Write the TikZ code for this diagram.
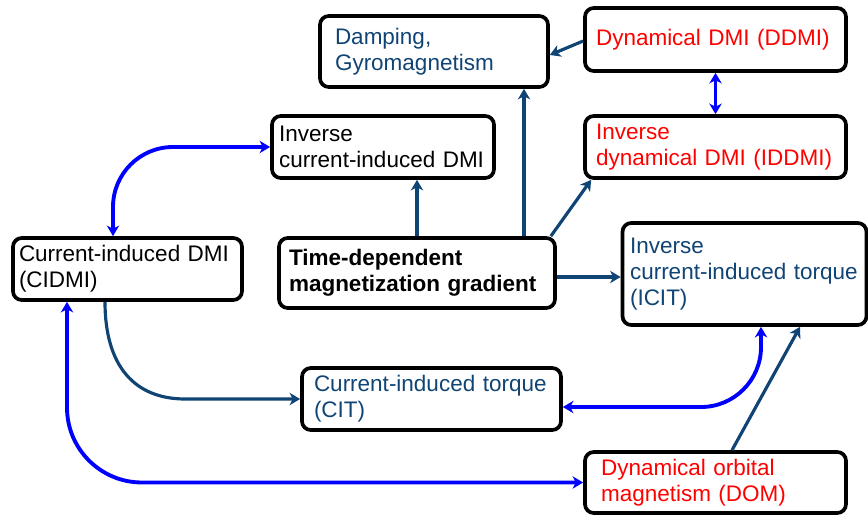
\documentclass[tikz,border=0pt]{standalone}
\usepackage{tikz}
\usetikzlibrary{calc}
\usetikzlibrary{arrows.meta}
\usepackage{fontspec}
\setmainfont{Liberation Sans}
\usepackage{color}
\definecolor{deepnavy}{RGB}{16, 68, 116}
\definecolor{pureblue}{RGB}{0, 0, 255}
\definecolor{brightred}{RGB}{255, 0, 0}

\begin{document}
\begin{tikzpicture}[
    box/.style={draw=black, line width=2.1pt, rounded corners=5pt, align=left,
                inner xsep=0.15cm, inner ysep=0pt, font=\fontsize{12.8}{14.8}\selectfont},
    oneway/.style={color=deepnavy, line width=1.8pt, -{Stealth[length=6pt, width=7pt, inset=1.8pt]}},
    twoway/.style={color=pureblue, line width=2.2pt,
                   {Stealth[length=6pt, width=7pt, inset=1.8pt]}-{Stealth[length=6pt, width=7pt, inset=1.8pt]}}
]
            % Frame to fix the size
            \useasboundingbox                                                 (0.00, 0.00) rectangle (17.36,-10.28);
            % Upper boxes
            \node[box, inner xsep=0.30cm, text width=3.96cm, minimum height=1.42cm, text=deepnavy]  (damp)  at ( 8.68,-1.03) {Damping,\\Gyromagnetism};
            \node[box, inner xsep=0.22cm, text width=4.78cm, minimum height=1.26cm, text=brightred] (ddmi)  at (14.31,-0.79) {Dynamical DMI (DDMI)};
            \node[box, inner xsep=0.14cm, text width=4.16cm, minimum height=1.24cm]                 (icdmi) at ( 7.66,-2.94) {Inverse\\current-induced DMI};
            \node[box, inner xsep=0.22cm, text width=4.78cm, minimum height=1.24cm, text=brightred] (iddmi) at (14.31,-2.94) {Inverse\\dynamical DMI (IDDMI)};
            % Middle row
            \node[box, inner xsep=0.12cm, text width=4.34cm, minimum height=1.24cm]                 (cidmi) at ( 2.55,-5.38) {Current-induced DMI\\(CIDMI)};
            \node[box, inner xsep=0.20cm, text width=5.12cm, minimum height=1.40cm,
                  font=\fontsize{12.8}{14.8}\selectfont\bfseries]                                   (tdmg)  at ( 8.34,-5.46) {Time-dependent\\magnetization gradient};
            \node[box, inner xsep=0.15cm, text width=4.58cm, minimum height=2.04cm, text=deepnavy]  (icit)  at (14.89,-5.48) {Inverse\\current-induced torque\\(ICIT)};
            % Lower boxes
            \node[box, inner xsep=0.24cm, text width=4.70cm, minimum height=1.24cm, text=deepnavy]  (cit)   at ( 8.63,-7.98) {Current-induced torque\\(CIT)};
            \node[box, inner xsep=0.32cm, text width=4.58cm, minimum height=1.22cm, text=brightred] (dom)   at (14.31,-9.65) {Dynamical orbital\\magnetism (DOM)};
            % Top links
            \draw[oneway] ([yshift=-0.03cm]ddmi.west) -- ([yshift=-0.07cm]damp.east);
            \draw[twoway] (ddmi.south) -- (iddmi.north);
            % Out of the gradient
            \draw[oneway] (tdmg.north) -- (tdmg.north |- icdmi.south);
            \draw[oneway] ([xshift=2.14cm]tdmg.north) -- ([xshift=2.14cm]tdmg.north |- damp.south);
            \draw[oneway] ([xshift=-0.12cm]tdmg.north east) -- ([xshift=0.16cm]iddmi.south west);
            \draw[oneway] ([yshift=-0.08cm]tdmg.east) -- ([yshift=-0.08cm]tdmg.east -| icit.west);
            % Left side curves
            \draw[twoway, rounded corners=1.2cm] ([xshift=-0.29cm]cidmi.north) |- (icdmi.west);
            \draw[oneway] ([xshift=-0.45cm]cidmi.south) .. controls +(0.00,-1.30) and +(-1.00, 0.00) ..
                          ([xshift=-2.30cm]cit.west) -- (cit.west);
            \draw[twoway, rounded corners=1.5cm] ([xshift=-1.21cm]cidmi.south) |- (dom.west);
            % Right side
            \draw[twoway, rounded corners=1.2cm] ([xshift=0.33cm]icit.south) |- ([yshift=-0.16cm]cit.east);
            \draw[oneway] ([xshift=0.33cm]dom.north) -- ([xshift=1.11cm]icit.south);
\end{tikzpicture}
\end{document}
